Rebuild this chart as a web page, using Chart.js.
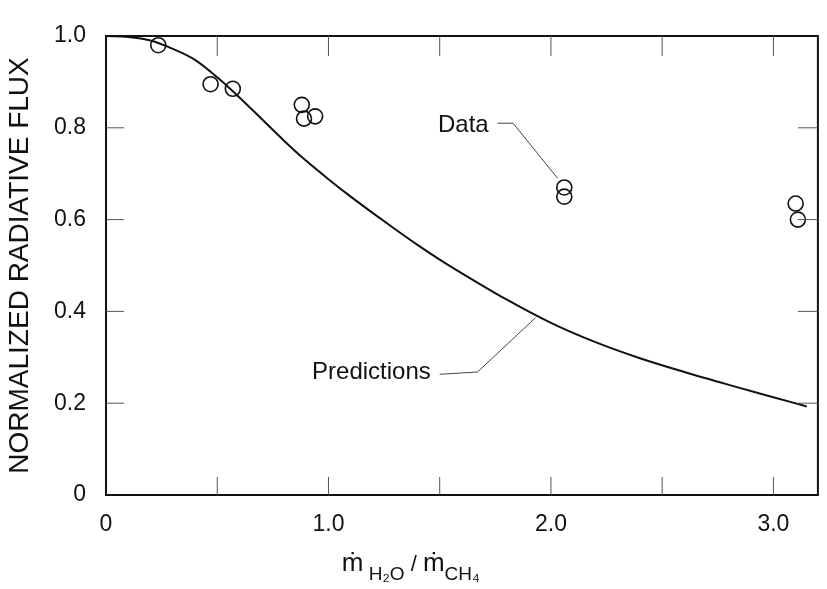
<!DOCTYPE html>
<html lang="en">
<head>
    <meta charset="UTF-8">
    <title>Normalized radiative flux</title>
    <script src="https://cdn.jsdelivr.net/npm/chart.js"></script>
    <style>
        body { margin: 0; background: #fff; }
        .chart-container { width: 827px; height: 589px; }
    </style>
</head>
<body>
    <div class="chart-container">
        <canvas id="fluxChart"></canvas>
    </div>

    <script>
        // predicted curve
        const predX = [0, 0.1, 0.2, 0.3, 0.4, 0.5, 0.6, 0.7, 0.8, 0.9, 1.0, 1.1, 1.2, 1.3, 1.4, 1.5, 1.6, 1.8, 2.0, 2.2, 2.4, 2.6, 2.8, 3.0, 3.15];
        const predY = [1.0, 0.998, 0.99, 0.972, 0.948, 0.91, 0.866, 0.819, 0.772, 0.728, 0.688, 0.650, 0.614, 0.579, 0.545, 0.513, 0.483, 0.426, 0.375, 0.333, 0.298, 0.268, 0.240, 0.213, 0.193];

        // measured points
        const dataX = [0.235, 0.47, 0.57, 0.88, 0.89, 0.94, 2.06, 2.06, 3.10, 3.11];
        const dataY = [0.98, 0.895, 0.885, 0.85, 0.82, 0.825, 0.67, 0.65, 0.635, 0.60];

        const xTickValues = [0, 0.5, 1.0, 1.5, 2.0, 2.5, 3.0];
        const xTickLabels = ['0', '', '1.0', '', '2.0', '', '3.0'];
        const yTickValues = [0, 0.2, 0.4, 0.6, 0.8, 1.0];
        const yTickLabels = ['0', '0.2', '0.4', '0.6', '0.8', '1.0'];

        // callouts, in data units
        const dataLabel = { text: 'Data', x: 1.72, y: 0.805 };
        const dataLeader = [[1.76, 0.81], [1.83, 0.81], [2.03, 0.69]];
        const predLabel = { text: 'Predictions', x: 1.46, y: 0.268 };
        const predLeader = [[1.50, 0.263], [1.67, 0.268], [1.93, 0.386]];

        const FONT = '"Liberation Sans", Arial, Helvetica, sans-serif';

        const framePlugin = {
            id: 'frame',
            afterDraw(chart) {
                const { ctx, chartArea: a, scales: { x, y } } = chart;
                ctx.save();

                // box
                ctx.strokeStyle = '#111';
                ctx.lineWidth = 2;
                ctx.strokeRect(a.left, a.top, a.width, a.height);

                // inward ticks
                ctx.strokeStyle = '#555';
                ctx.lineWidth = 1;
                ctx.beginPath();
                xTickValues.forEach(v => {
                    if (v <= 0) return;
                    const px = x.getPixelForValue(v);
                    ctx.moveTo(px, a.bottom); ctx.lineTo(px, a.bottom - 18);
                    ctx.moveTo(px, a.top); ctx.lineTo(px, a.top + 20);
                });
                yTickValues.forEach(v => {
                    if (v <= 0 || v >= 1) return;
                    const py = y.getPixelForValue(v);
                    ctx.moveTo(a.left, py); ctx.lineTo(a.left + 18, py);
                    ctx.moveTo(a.right, py); ctx.lineTo(a.right - 20, py);
                });
                ctx.stroke();

                // leader lines
                ctx.strokeStyle = '#444';
                [dataLeader, predLeader].forEach(pts => {
                    ctx.beginPath();
                    pts.forEach((p, i) => {
                        const px = x.getPixelForValue(p[0]), py = y.getPixelForValue(p[1]);
                        if (i === 0) ctx.moveTo(px, py); else ctx.lineTo(px, py);
                    });
                    ctx.stroke();
                });

                // callout text
                ctx.fillStyle = '#111';
                ctx.font = '24px ' + FONT;
                ctx.textAlign = 'right';
                ctx.textBaseline = 'middle';
                [dataLabel, predLabel].forEach(l => {
                    ctx.fillText(l.text, x.getPixelForValue(l.x), y.getPixelForValue(l.y));
                });

                // x axis title: m-dot H2O / m-dot CH4
                const parts = [
                    { t: 'ṁ', s: 26, dy: 0 },
                    { t: ' H₂O', s: 19, dy: 9 },
                    { t: ' / ', s: 22, dy: 0 },
                    { t: 'ṁ', s: 26, dy: 0 },
                    { t: 'CH₄', s: 19, dy: 9 }
                ];
                ctx.textAlign = 'left';
                ctx.textBaseline = 'alphabetic';
                let total = 0;
                parts.forEach(p => { ctx.font = p.s + 'px ' + FONT; p.w = ctx.measureText(p.t).width; total += p.w; });
                let cx = x.getPixelForValue(1.37) - total / 2;
                const base = a.bottom + 76;
                parts.forEach(p => {
                    ctx.font = p.s + 'px ' + FONT;
                    ctx.fillText(p.t, cx, base + p.dy);
                    cx += p.w;
                });

                ctx.restore();
            }
        };

        const ctx = document.getElementById('fluxChart').getContext('2d');
        new Chart(ctx, {
            type: 'scatter',
            data: {
                datasets: [
                    {
                        label: 'Predictions',
                        data: predX.map((v, i) => ({ x: v, y: predY[i] })),
                        showLine: true,
                        borderColor: '#111',
                        borderWidth: 2,
                        pointRadius: 0,
                        cubicInterpolationMode: 'monotone',
                        fill: false
                    },
                    {
                        label: 'Data',
                        data: dataX.map((v, i) => ({ x: v, y: dataY[i] })),
                        showLine: false,
                        pointRadius: 7.5,
                        pointBorderWidth: 1.6,
                        borderColor: '#111',
                        backgroundColor: 'rgba(0,0,0,0)',
                        clip: false
                    }
                ]
            },
            options: {
                responsive: true,
                maintainAspectRatio: false,
                animation: false,
                layout: { padding: { top: 36, right: 8, left: 0, bottom: 0 } },
                plugins: {
                    legend: { display: false },
                    tooltip: { enabled: false }
                },
                scales: {
                    x: {
                        type: 'linear',
                        min: 0,
                        max: 3.2,
                        afterBuildTicks: s => { s.ticks = xTickValues.map(v => ({ value: v })); },
                        afterFit: s => { s.height = 94; },
                        grid: { display: false },
                        border: { display: false },
                        ticks: {
                            padding: 8,
                            color: '#111',
                            font: { family: FONT, size: 23 },
                            callback: (v, i) => xTickLabels[i]
                        }
                    },
                    y: {
                        min: 0,
                        max: 1.0,
                        afterBuildTicks: s => { s.ticks = yTickValues.map(v => ({ value: v })); },
                        afterFit: s => { s.width = 106; },
                        grid: { display: false },
                        border: { display: false },
                        title: {
                            display: true,
                            text: 'NORMALIZED RADIATIVE FLUX',
                            color: '#111',
                            font: { family: FONT, size: 28 },
                            padding: { top: 3, bottom: 0 }
                        },
                        ticks: {
                            padding: 12,
                            color: '#111',
                            font: { family: FONT, size: 23 },
                            callback: (v, i) => yTickLabels[i]
                        }
                    }
                }
            },
            plugins: [framePlugin]
        });
    </script>
</body>
</html>
